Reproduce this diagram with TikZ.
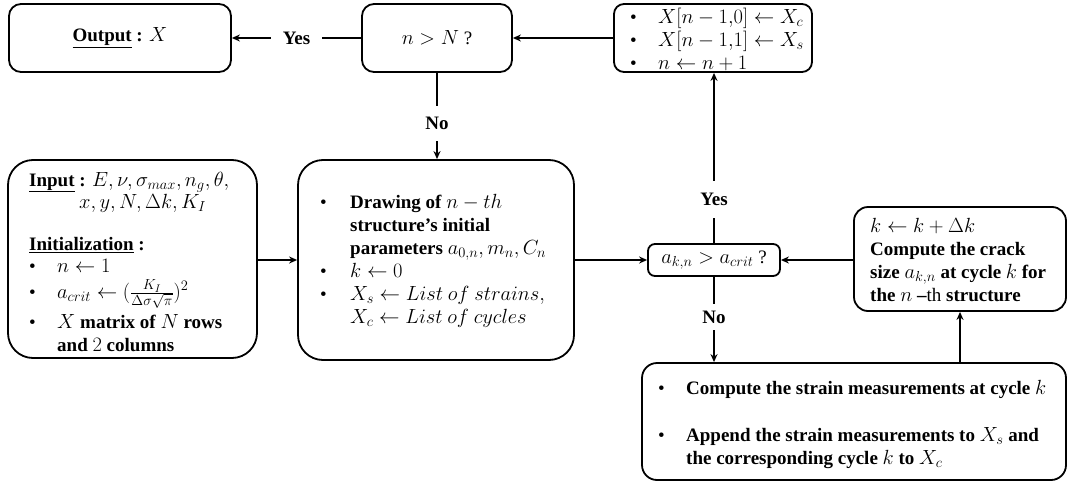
\RequirePackage{fix-cm}
\documentclass[tikz,border=0pt]{standalone}
\usepackage{fontspec}
\setmainfont{Liberation Serif}
\usetikzlibrary{arrows.meta}
\DeclareMathSizes{19}{20.5}{14.5}{11}
\newcommand{\mybul}{\makebox[28pt][l]{\textbullet}}
\newcommand{\myind}{\hspace*{28pt}}
\begin{document}
\begin{tikzpicture}[x=1pt,y=-1pt,
  every node/.style={font=\fontsize{19}{23}\selectfont},
  box/.style={draw, line width=1.8pt, inner sep=0pt},
  txt/.style={anchor=west, align=left, inner sep=0pt},
  arr/.style={line width=2pt, -{Stealth[length=8pt,width=7pt]}},
  lbl/.style={fill=white, font=\fontsize{19}{23}\selectfont\bfseries}]
\useasboundingbox (0,0) rectangle (1070,487);

% boxes
\node[box, rounded corners=12pt, minimum width=222pt, minimum height=68pt] (out) at (120,38)
  {\underline{\textbf{Output}} \textbf{:} $X$};
\node[box, rounded corners=12pt, minimum width=150pt, minimum height=68pt] (nN) at (437,38)
  {$n > N$ ?};
\node[box, rounded corners=10pt, minimum width=198pt, minimum height=68pt] (tr) at (713,38) {};
\node[box, rounded corners=25pt, minimum width=249pt, minimum height=198pt] (inp) at (132.5,259) {};
\node[box, rounded corners=25pt, minimum width=276pt, minimum height=200pt] (ctr) at (436,260) {};
\node[box, rounded corners=7pt, minimum width=132pt, minimum height=32pt] (akn) at (714,260)
  {$a_{k,n} > a_{crit}$ ?};
\node[box, rounded corners=14pt, minimum width=212pt, minimum height=104pt] (kb) at (960,259) {};
\node[box, rounded corners=15pt, minimum width=424pt, minimum height=117pt] (bot) at (854,421.5) {};

% texts
\node[txt] (trt) at (630,39) {%
  \mybul$X[n-1{,}0] \leftarrow X_c$\\
  \mybul$X[n-1{,}1] \leftarrow X_s$\\
  \mybul$n \leftarrow n+1$};
\node[txt] (inpt) at (29,262) {%
  \underline{\textbf{Input}} \textbf{:} $E, \nu, \sigma_{max}, n_g, \theta,$\\[-1pt]
  \hspace*{50pt}$x, y, N, \Delta k, K_I$\\[19pt]
  \underline{\textbf{Initialization}} \textbf{:}\\[-1pt]
  \mybul$n \leftarrow 1$\\[3pt]
  \mybul$a_{crit} \leftarrow (\frac{K_I}{\Delta\sigma\sqrt{\pi}})^2$\\[5pt]
  \mybul$X$ \textbf{matrix of} $N$ \textbf{rows}\\
  \myind\textbf{and} $2$ \textbf{columns}};
\node[txt] (ctrt) at (320,261) {%
  \makebox[30pt][l]{\textbullet}\textbf{Drawing of} $n-th$\\
  \hspace*{30pt}\textbf{structure’s initial}\\
  \hspace*{30pt}\textbf{parameters} $a_{0,n}, m_n, C_n$\\
  \makebox[30pt][l]{\textbullet}$k \leftarrow 0$\\
  \makebox[30pt][l]{\textbullet}$X_s \leftarrow List~of~strains,$\\
  \hspace*{30pt}$X_c \leftarrow List~of~cycles$};
\node[txt] (kbt) at (870,260) {%
  $k \leftarrow k + \Delta k$\\
  \textbf{Compute the crack}\\
  \textbf{size} $a_{k,n}$ \textbf{at cycle} $k$ \textbf{for}\\
  \textbf{the} $n$ \textbf{–}th \textbf{structure}};
\node[txt] (bott) at (658,424) {%
  \mybul\textbf{Compute the strain measurements at cycle} $k$\\[24pt]
  \mybul\textbf{Append the strain measurements to} $X_s$ \textbf{and}\\
  \myind\textbf{the corresponding cycle} $k$ \textbf{to} $X_c$};

% connectors
\draw[arr] (tr.west) -- (tr.west -| nN.east);
\draw[arr] (nN.west) -- node[lbl, inner xsep=12pt] (yes1) {Yes} (out.east);
\draw[arr] (nN.south) -- node[lbl, pos=0.59, inner ysep=11pt] (no1) {No} (nN.south |- ctr.north);
\draw[arr] (inp.east |- ctr.west) -- (ctr.west);
\draw[arr] (ctr.east |- akn.west) -- (akn.west);
\draw[arr] (akn.north) -- node[lbl, pos=0.256, inner ysep=12pt] (yes2) {Yes} (akn.north |- tr.south);
\draw[arr] (akn.south) -- node[lbl, pos=0.47, inner ysep=7pt] (no2) {No} (akn.south |- bot.north);
\draw[arr] (kb.south |- bot.north) -- (kb.south);
\draw[arr] (kb.west |- akn.east) -- (akn.east);
\end{tikzpicture}
\end{document}
